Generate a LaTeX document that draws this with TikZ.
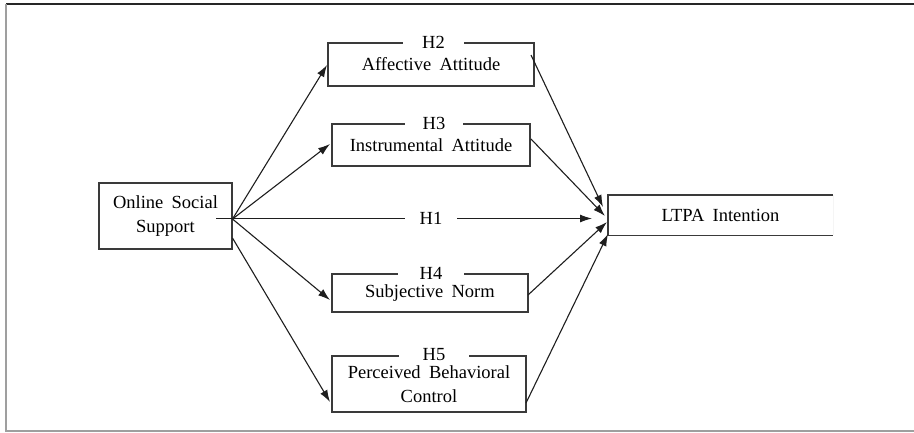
\documentclass[tikz,border=0pt]{standalone}
\usepackage{fontspec}
\setmainfont{Liberation Serif}
\usetikzlibrary{arrows.meta}
\definecolor{boxgray}{HTML}{3A3A3A}
\definecolor{arrowblack}{HTML}{1E1E1E}
\newcommand{\ws}{\hspace{0.45em}}
\begin{document}
\begin{tikzpicture}[x=1pt,y=-1pt,
  font=\fontsize{18.5}{24}\selectfont,
  box/.style={rectangle, draw=boxgray, line width=1.4pt, inner sep=0pt, align=center},
  openbox/.style={rectangle, inner sep=0pt, align=center},
  hlab/.style={fill=white, inner sep=0pt, minimum height=13pt},
  arr/.style={draw=arrowblack, line width=1.1pt, -{Latex[length=12pt,width=8pt]}},
  frametop/.style={draw=black!85, line width=1.2pt},
  frameside/.style={draw=gray!75, line width=1.2pt}]
\useasboundingbox (0,0) rectangle (914,432);

% outer frame
\draw[frametop] (6,4) -- (914,4);
\draw[frameside] (6,4) -- (6,431) -- (914,431);

% boxes
\node[box, minimum width=133pt, minimum height=66pt] (oss) at (165.5,216) {Online\ws Social\\Support};
\node[box, minimum width=206pt, minimum height=43pt] (h2) at (431,64.5) {Affective\ws Attitude};
\node[box, minimum width=198pt, minimum height=42pt] (h3) at (431,145) {Instrumental\ws Attitude};
\node[box, minimum width=196pt, minimum height=38pt] (h4) at (430,293) {Subjective\ws Norm};
\node[box, minimum width=194pt, minimum height=56pt] (h5) at (429,384) {Perceived\ws Behavioral\\Control};
\node[openbox, minimum width=225pt, minimum height=40pt] (ltpa) at (720.5,215) {LTPA\ws Intention};
\draw[draw=boxgray, line width=1.4pt] (ltpa.north east) -- (ltpa.north west) -- (ltpa.south west) -- (ltpa.south east);
\draw[draw=gray!8, line width=1pt] (ltpa.north east) -- (ltpa.south east);

% connector end points
\coordinate (o1) at (232.5,219);
\coordinate (o2) at (232.5,238);
\coordinate (h1s) at (216,218.5);
\coordinate (e2) at (327,65);
\coordinate (e3) at (330,144);
\coordinate (e4) at (330,300);
\coordinate (e5) at (330,402);
\coordinate (s2) at (531,55);
\coordinate (s3) at (531,139);
\coordinate (s4) at (528,295);
\coordinate (s5) at (526,403);
\coordinate (t1) at (592,218.5);
\coordinate (t2) at (603,207);
\coordinate (t3) at (605,216);
\coordinate (t4) at (607,222);
\coordinate (t5) at (608,234);

% arrows
\draw[arr] (o1) -- (e2);
\draw[arr] (o1) -- (e3);
\draw[arr] (o1) -- (e4);
\draw[arr] (o2) -- (e5);
\draw[arr] (h1s) -- (t1);
\draw[arr] (s2) -- (t2);
\draw[arr] (s3) -- (t3);
\draw[arr] (s4) -- (t4);
\draw[arr] (s5) -- (t5);

% hypothesis labels (break the lines)
\node[hlab, minimum width=61pt] (l2) at (433.5,42) {H2};
\node[hlab, minimum width=58pt] (l3) at (434,123) {H3};
\node[hlab, minimum width=52pt] (l1) at (431,218.5) {H1};
\node[hlab, minimum width=66pt] (l4) at (431,273) {H4};
\node[hlab, minimum width=70pt] (l5) at (434,355) {H5};
\end{tikzpicture}
\end{document}
